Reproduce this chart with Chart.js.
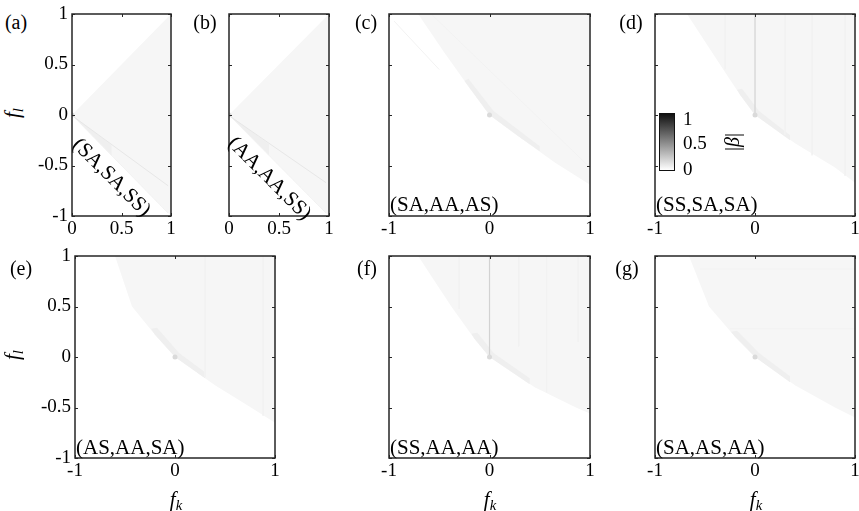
<!DOCTYPE html>
<html>
<head>
<meta charset="utf-8">
<script src="https://cdn.jsdelivr.net/npm/chart.js@4.4.1/dist/chart.umd.min.js"></script>
<style>
  body { margin: 0; width: 859px; height: 511px; background: #fff; overflow: hidden; position: relative; font-family: 'Liberation Serif', serif; color: #000; }
  .box { position: absolute; }
  .t { position: absolute; white-space: nowrap; line-height: 1; }
  sub { font-size: 70%; vertical-align: -0.3em; line-height: 0; }
</style>
</head>
<body>
<script>
// tick values
const fkHalf = [0, 0.5, 1];
const fkFull = [-1, 0, 1];
const flTicks = [-1, -0.5, 0, 0.5, 1];

// (a) (SA,SA,SS)  -- points are [fk, fl]
const aRegion = [[0, 0], [1, 1], [1, -1]];
const aBand = [[0, 0], [0.4, -0.4], [0.4, -0.3]];
const aFaint = [[[0, 0], [0.97, -0.97]]];
const aMid = [[[0.02, -0.02], [0.97, -0.7]]];
const aStrong = [];

// (b) (AA,AA,SS)
const bRegion = [[0, 0], [1, 1], [1, -1]];
const bBand = [[0, 0], [0.4, -0.4], [0.4, -0.29]];
const bFaint = [[[0, 0], [0.97, -0.97]]];
const bMid = [[[0.02, -0.02], [0.97, -0.67]]];
const bStrong = [];

// (c) (SA,AA,AS)
const cRegion = [[-0.71, 1], [-0.45, 0.62], [-0.2, 0.27], [0, 0], [0.3, -0.22], [0.65, -0.47], [1, -0.69], [1, 1]];
const cBand = [[-0.25, 0.34], [-0.2, 0.27], [0, 0], [0.3, -0.22], [0.5, -0.36], [0.5, -0.31], [0.04, 0.04], [-0.21, 0.36]];
const cFaint = [[[-0.95, 0.93], [-0.5, 0.45]], [[-0.58, 1], [1, -0.52]]];
const cMid = [];
const cStrong = [];

// (d) (SS,SA,SA)
const dRegion = [[-0.68, 1], [-0.35, 0.5], [-0.15, 0.2], [0, 0], [0.4, -0.28], [0.8, -0.52], [1, -0.67], [1, 1]];
const dBand = [[-0.18, 0.25], [-0.15, 0.2], [0, 0], [0.35, -0.25], [0.35, -0.2], [0.04, 0.04], [-0.13, 0.26]];
const dFaint = [[[-0.3, 1], [-0.3, 0.45]], [[0.3, 1], [0.3, -0.2]], [[0.57, 1], [0.57, -0.4]], [[0.9, 1], [0.9, -0.6]]];
const dMid = [];
const dStrong = [[[0, 1], [0, 0]]];

// (e) (AS,AA,SA)
const eRegion = [[-0.6, 1], [-0.43, 0.5], [-0.2, 0.22], [0, 0], [0.4, -0.28], [0.76, -0.5], [1, -0.65], [1, 1]];
const eBand = [[-0.24, 0.28], [-0.2, 0.22], [0, 0], [0.3, -0.21], [0.3, -0.15], [0.04, 0.04], [-0.18, 0.29]];
const eFaint = [[[0.3, 1], [0.3, -0.2]], [[0.88, 1], [0.88, -0.58]]];
const eMid = [];
const eStrong = [];

// (f) (SS,AA,AA)
const fRegion = [[-0.71, 1], [-0.38, 0.5], [-0.15, 0.18], [0, 0], [0.45, -0.3], [0.86, -0.5], [1, -0.56], [1, 1]];
const fBand = [[-0.18, 0.23], [-0.15, 0.18], [0, 0], [0.4, -0.27], [0.4, -0.21], [0.04, 0.04], [-0.12, 0.24]];
const fFaint = [[[-0.3, 1], [-0.3, 0.48]], [[0.29, 1], [0.29, 0.1]], [[0.57, 1], [0.57, -0.35]], [[0.88, 1], [0.88, 0.15]]];
const fMid = [];
const fStrong = [[[0, 1], [0, 0]]];

// (g) (SA,AS,AA)
const gRegion = [[-0.66, 1], [-0.46, 0.5], [-0.2, 0.2], [0, 0], [0.4, -0.28], [0.8, -0.5], [1, -0.6], [1, 1]];
const gBand = [[-0.24, 0.25], [-0.2, 0.2], [0, 0], [0.35, -0.25], [0.35, -0.19], [0.04, 0.04], [-0.18, 0.26]];
const gFaint = [[[-0.25, 0.28], [1, 0.28]], [[-0.55, 0.87], [1, 0.87]]];
const gMid = [];
const gStrong = [];

// colorbar ticks
const cbTicks = ['1', '0.5', '0'];

const PAD_T = 12, PAD_R = 2, Y_W = 40, X_H = 30;
const TICK_FONT = { family: 'Liberation Serif', size: 19 };

const pts = arr => arr.map(([x, y]) => ({ x, y }));

// MATLAB style box with inward ticks on all four sides
const boxTicks = {
  id: 'boxTicks',
  afterDatasetsDraw(chart) {
    const { ctx, chartArea: a, scales: { x, y } } = chart;
    ctx.save();
    ctx.strokeStyle = '#262626';
    ctx.lineWidth = 1;
    ctx.beginPath();
    x.ticks.forEach(t => {
      const px = Math.round(x.getPixelForValue(t.value)) + 0.5;
      ctx.moveTo(px, a.bottom); ctx.lineTo(px, a.bottom - 3);
      ctx.moveTo(px, a.top); ctx.lineTo(px, a.top + 3);
    });
    y.ticks.forEach(t => {
      const py = Math.round(y.getPixelForValue(t.value)) + 0.5;
      ctx.moveTo(a.left, py); ctx.lineTo(a.left + 3, py);
      ctx.moveTo(a.right, py); ctx.lineTo(a.right - 3, py);
    });
    ctx.stroke();
    ctx.lineWidth = 1.5;
    ctx.strokeRect(a.left, a.top, a.width, a.height);
    ctx.restore();
  }
};

function makePanel(p) {
  const wrap = document.createElement('div');
  wrap.className = 'box';
  wrap.style.left = (p.left - Y_W) + 'px';
  wrap.style.top = (p.top - PAD_T) + 'px';
  wrap.style.width = (p.w + Y_W + PAD_R) + 'px';
  wrap.style.height = (202 + PAD_T + X_H) + 'px';
  const cv = document.createElement('canvas');
  wrap.appendChild(cv);
  document.body.appendChild(wrap);

  // higher order is drawn underneath
  const datasets = [
    { data: pts(p.region), order: 6, borderWidth: 0, backgroundColor: '#f6f6f6', fill: 'shape' },
    { data: pts(p.band), order: 5, borderWidth: 0, backgroundColor: '#efefef', fill: 'shape' }
  ];
  p.faint.forEach(l => datasets.push({ data: pts(l), order: 4, borderColor: '#f2f2f2', borderWidth: 1, fill: false }));
  p.mid.forEach(l => datasets.push({ data: pts(l), order: 3, borderColor: '#e7e7e7', borderWidth: 1, fill: false }));
  p.strong.forEach(l => datasets.push({ data: pts(l), order: 2, borderColor: '#d2d2d2', borderWidth: 1.2, fill: false }));
  datasets.push({ data: pts([[0, 0]]), order: 1, showLine: false, pointRadius: 2.5, pointBorderWidth: 0, pointBackgroundColor: '#dadada' });

  new Chart(cv, {
    type: 'line',
    data: { datasets },
    options: {
      responsive: true,
      maintainAspectRatio: false,
      animation: false,
      events: [],
      layout: { padding: { top: PAD_T, right: PAD_R, left: 0, bottom: 0 } },
      elements: { point: { radius: 0 }, line: { tension: 0 } },
      plugins: { legend: { display: false }, tooltip: { enabled: false } },
      scales: {
        x: {
          type: 'linear', min: p.xTicks[0], max: p.xTicks[p.xTicks.length - 1],
          afterBuildTicks: s => { s.ticks = p.xTicks.map(v => ({ value: v })); },
          ticks: { autoSkip: false, maxRotation: 0, padding: 2, font: TICK_FONT, color: '#000', callback: v => String(v) },
          grid: { display: false, drawTicks: false },
          border: { display: false },
          afterFit: s => { s.height = X_H; s.paddingLeft = 0; s.paddingRight = 0; }
        },
        y: {
          type: 'linear', min: -1, max: 1,
          afterBuildTicks: s => { s.ticks = flTicks.map(v => ({ value: v })); },
          ticks: { display: p.yLabels, autoSkip: false, padding: 4, font: TICK_FONT, color: '#000', callback: v => String(v) },
          grid: { display: false, drawTicks: false },
          border: { display: false },
          afterFit: s => { s.width = Y_W; s.paddingTop = 0; s.paddingBottom = 0; }
        }
      }
    },
    plugins: [boxTicks]
  });
}

const panels = [
  { left: 72, top: 14, w: 101, xTicks: fkHalf, yLabels: true, region: aRegion, band: aBand, faint: aFaint, mid: aMid, strong: aStrong },
  { left: 229, top: 14, w: 102, xTicks: fkHalf, yLabels: false, region: bRegion, band: bBand, faint: bFaint, mid: bMid, strong: bStrong },
  { left: 389, top: 14, w: 203, xTicks: fkFull, yLabels: false, region: cRegion, band: cBand, faint: cFaint, mid: cMid, strong: cStrong },
  { left: 655, top: 14, w: 202, xTicks: fkFull, yLabels: false, region: dRegion, band: dBand, faint: dFaint, mid: dMid, strong: dStrong },
  { left: 75, top: 256, w: 202, xTicks: fkFull, yLabels: true, region: eRegion, band: eBand, faint: eFaint, mid: eMid, strong: eStrong },
  { left: 389, top: 256, w: 203, xTicks: fkFull, yLabels: false, region: fRegion, band: fBand, faint: fFaint, mid: fMid, strong: fStrong },
  { left: 655, top: 256, w: 202, xTicks: fkFull, yLabels: false, region: gRegion, band: gBand, faint: gFaint, mid: gMid, strong: gStrong }
];
panels.forEach(makePanel);

function txt(html, x, y, size, transform) {
  const d = document.createElement('div');
  d.className = 't';
  d.style.left = x + 'px';
  d.style.top = y + 'px';
  d.style.fontSize = size + 'px';
  d.style.transform = transform || 'translate(-50%,-50%)';
  d.innerHTML = html;
  document.body.appendChild(d);
  return d;
}

// panel letters
[['(a)', 16, 22], ['(b)', 205, 22], ['(c)', 366, 22], ['(d)', 631, 22],
 ['(e)', 21, 268], ['(f)', 367, 268], ['(g)', 627, 268]].forEach(([s, x, y]) => txt(s, x, y, 20));

// in-panel labels
txt('(SA,SA,SS)', 112, 177, 21, 'translate(-50%,-50%) rotate(45deg)');
txt('(AA,AA,SS)', 270, 178, 21, 'translate(-50%,-50%) rotate(45deg)');
txt('(SA,AA,AS)', 390, 204, 21, 'translate(0,-50%)');
txt('(SS,SA,SA)', 656, 204, 21, 'translate(0,-50%)');
txt('(AS,AA,SA)', 76, 447, 21, 'translate(0,-50%)');
txt('(SS,AA,AA)', 390, 447, 21, 'translate(0,-50%)');
txt('(SA,AS,AA)', 656, 447, 21, 'translate(0,-50%)');

// axis titles
const fl = '<i>f</i><sub><i>l</i></sub>';
const fk = '<i>f</i><sub><i>k</i></sub>';
txt(fl, 12, 113, 21, 'translate(-50%,-50%) rotate(-90deg)');
txt(fl, 12, 355, 21, 'translate(-50%,-50%) rotate(-90deg)');
txt(fk, 176, 499, 21);
txt(fk, 490, 499, 21);
txt(fk, 756, 499, 21);

// colorbar
const cb = document.createElement('div');
cb.style.cssText = 'position:absolute;left:659px;top:113px;width:16px;height:58px;box-sizing:border-box;border:1.5px solid #111;background:linear-gradient(to bottom,#111,#fff)';
document.body.appendChild(cb);
[118, 142, 168].forEach((y, i) => txt(cbTicks[i], 683, y, 19, 'translate(0,-50%)'));
txt('|<i>β</i>|', 732, 142, 20, 'translate(-50%,-50%) rotate(-90deg)');
</script>
</body>
</html>
